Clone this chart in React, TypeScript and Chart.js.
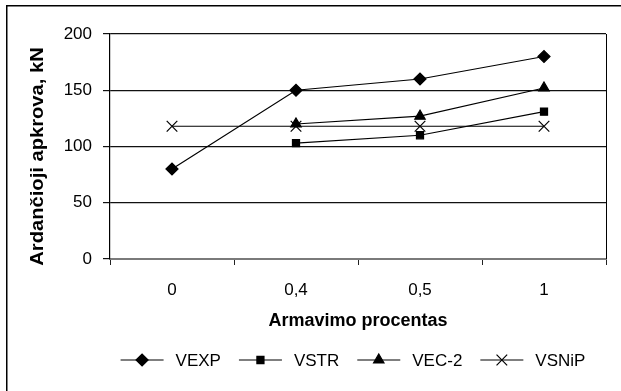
import React, { useEffect, useRef } from 'react';
import { Chart, registerables } from 'chart.js';
import { drawPoint } from 'chart.js/helpers';

Chart.register(...registerables);

const categories = ['0', '0,4', '0,5', '1'];
const vexp = [80, 150, 160, 180];
const vstr = [null, 103, 110, 131];
const vec2 = [null, 120, 127, 152];
const vsnip = [118, 118, 118, 118];
const seriesLabels = ['VEXP', 'VSTR', 'VEC-2', 'VSNiP'];
const seriesMarkers = ['rectRot', 'rect', 'triangle', 'crossRot'];
const seriesMarkerRadius = [6, 5, 6, 7.5];
const yMin = 0;
const yMax = 200;
const yStep = 50;
const xTitle = 'Armavimo procentas';
const yTitle = 'Ardančioji apkrova, kN';

const FONT = "'Liberation Sans', Arial, Helvetica, sans-serif";

const framePlugin = {
  id: 'frame',
  beforeDraw(chart: any) {
    const ctx = chart.ctx;
    ctx.save();
    ctx.fillStyle = '#ffffff';
    ctx.fillRect(0, 0, chart.width, chart.height);
    ctx.strokeStyle = '#000000';
    ctx.lineWidth = 1.5;
    ctx.strokeRect(6.75, 5.75, chart.width + 20, chart.height + 20);
    ctx.restore();
  },
};

const plotBorderPlugin = {
  id: 'plotBorder',
  beforeDatasetsDraw(chart: any) {
    const { ctx, chartArea } = chart;
    ctx.save();
    ctx.strokeStyle = '#000000';
    ctx.lineWidth = 1;
    ctx.beginPath();
    ctx.moveTo(Math.round(chartArea.right) + 0.5, chartArea.top);
    ctx.lineTo(Math.round(chartArea.right) + 0.5, chartArea.bottom);
    ctx.stroke();
    ctx.restore();
  },
};

const yTitlePlugin = {
  id: 'yTitleCustom',
  afterDraw(chart: any) {
    const { ctx, chartArea } = chart;
    ctx.save();
    ctx.translate(38.5, (chartArea.top + chartArea.bottom) / 2 + 10);
    ctx.rotate(-Math.PI / 2);
    ctx.scale(1.12, 1);
    ctx.font = `bold 18px ${FONT}`;
    ctx.fillStyle = '#000000';
    ctx.textAlign = 'center';
    ctx.textBaseline = 'middle';
    ctx.fillText(yTitle, 0, 0);
    ctx.restore();
  },
};

const legendPlugin = {
  id: 'lineLegend',
  afterDraw(chart: any) {
    const { ctx, chartArea } = chart;
    const lineLen = 43;
    const gap = 12;
    const itemGap = 18;
    const y = 360;
    ctx.save();
    ctx.font = `17px ${FONT}`;
    const ds = chart.data.datasets;
    const widths = ds.map((d: any) => ctx.measureText(d.label).width);
    let total = 0;
    widths.forEach((w: number, i: number) => {
      total += lineLen + gap + w + (i < widths.length - 1 ? itemGap : 0);
    });
    let x = (chartArea.left + chartArea.right) / 2 - 5 - total / 2;
    ds.forEach((d: any, i: number) => {
      ctx.strokeStyle = '#000000';
      ctx.fillStyle = '#000000';
      ctx.lineWidth = 1.2;
      ctx.beginPath();
      ctx.moveTo(x, y);
      ctx.lineTo(x + lineLen, y);
      ctx.stroke();
      drawPoint(ctx, { pointStyle: d.pointStyle, radius: d.pointRadius, rotation: 0, borderWidth: 1.2 }, x + lineLen / 2, y);
      ctx.fillStyle = '#000000';
      ctx.textAlign = 'left';
      ctx.textBaseline = 'middle';
      ctx.fillText(d.label, x + lineLen + gap, y + 1);
      x += lineLen + gap + widths[i] + itemGap;
    });
    ctx.restore();
  },
};

export default function App() {
  const ref = useRef<HTMLCanvasElement | null>(null);

  useEffect(() => {
    if (!ref.current) return;
    const seriesData = [vexp, vstr, vec2, vsnip];
    const chart = new Chart(ref.current, {
      type: 'line',
      data: {
        labels: categories,
        datasets: seriesData.map((data, i) => ({
          label: seriesLabels[i],
          data,
          borderColor: '#000000',
          backgroundColor: '#000000',
          borderWidth: 1.2,
          pointStyle: seriesMarkers[i],
          pointRadius: seriesMarkerRadius[i],
          pointBackgroundColor: '#000000',
          pointBorderColor: '#000000',
          pointBorderWidth: 1.2,
          fill: false,
          tension: 0,
          spanGaps: false,
        })) as any,
      },
      options: {
        responsive: false,
        animation: false,
        events: [],
        layout: { padding: { top: 34, right: 15, bottom: 57, left: 0 } },
        plugins: {
          legend: { display: false },
          tooltip: { enabled: false },
          title: { display: false },
        },
        scales: {
          x: {
            type: 'category',
            offset: true,
            afterFit: (s: any) => { s.height = 75; },
            grid: {
              offset: true,
              drawOnChartArea: false,
              drawTicks: true,
              tickLength: 6,
              color: '#222222',
              tickColor: '#222222',
            },
            border: { display: true, color: '#7a7a7a', width: 2 },
            ticks: {
              color: '#000000',
              font: { family: FONT, size: 17 },
              padding: 15,
              maxRotation: 0,
            },
            title: {
              display: true,
              text: xTitle,
              color: '#000000',
              font: { family: FONT, size: 18, weight: 'bold' },
              padding: { top: 0, bottom: 2 },
            },
          },
          y: {
            min: yMin,
            max: yMax,
            afterFit: (s: any) => { s.width = 110; },
            grid: {
              color: (c: any) => (c.tick && c.tick.value === 0 ? 'rgba(0,0,0,0)' : '#111111'),
              tickColor: '#111111',
              tickLength: 7,
              lineWidth: 1.2,
            },
            border: { display: true, color: '#000000', width: 1.2 },
            ticks: {
              stepSize: yStep,
              color: '#000000',
              font: { family: FONT, size: 17 },
              padding: 11,
            },
          },
        },
      } as any,
      plugins: [framePlugin, plotBorderPlugin, yTitlePlugin, legendPlugin],
    });
    return () => chart.destroy();
  }, []);

  return (
    <div style={{ position: 'absolute', left: 0, top: 0, width: 621, height: 391, background: '#fff' }}>
      <canvas ref={ref} width={621} height={391} style={{ display: 'block' }} />
    </div>
  );
}
